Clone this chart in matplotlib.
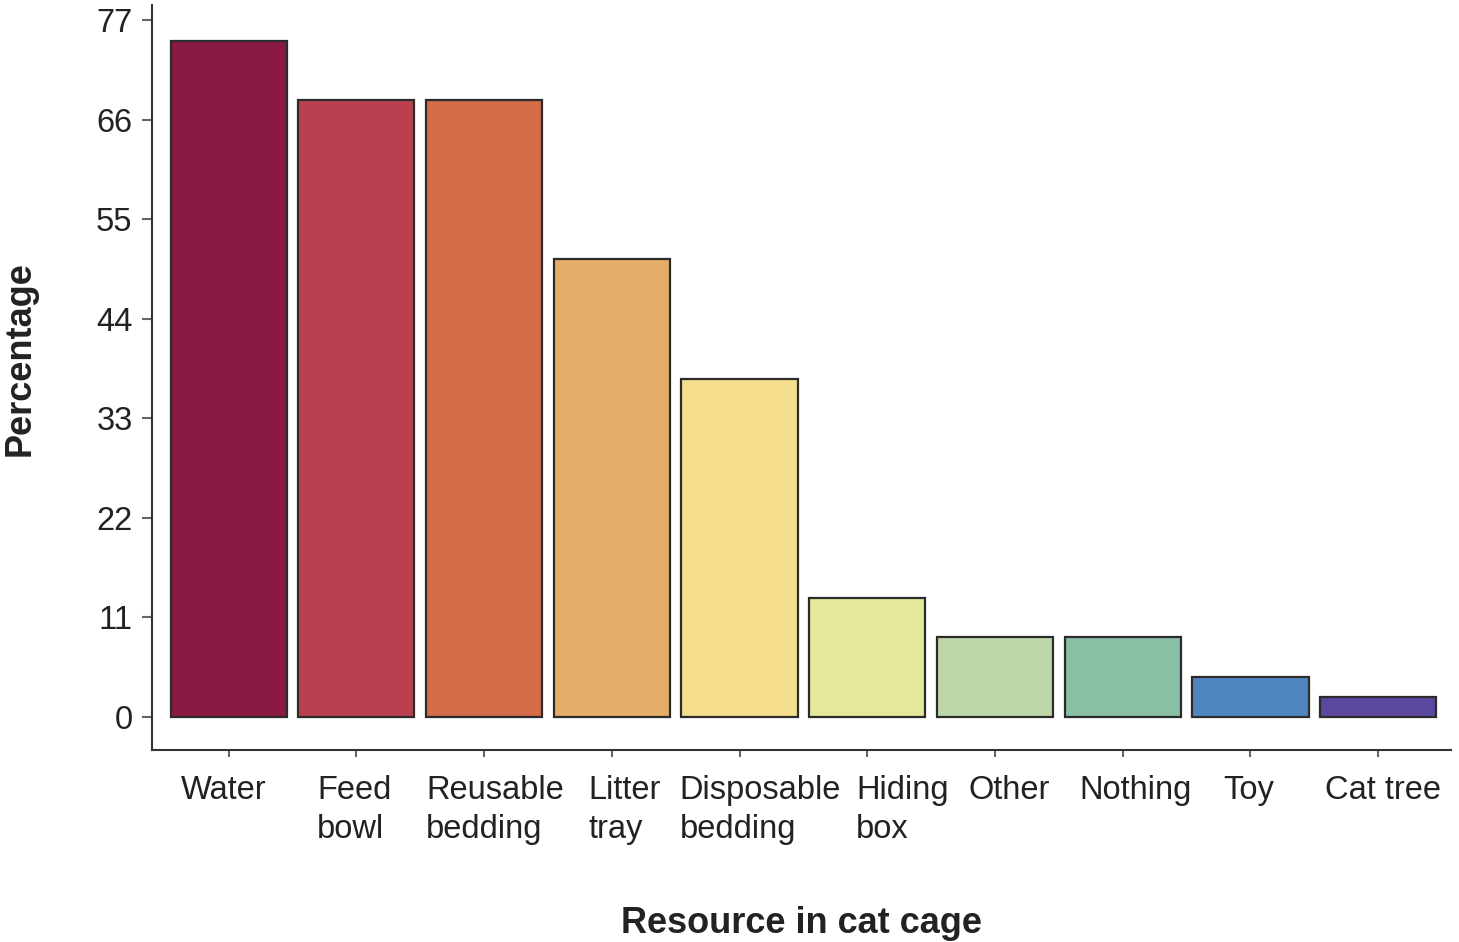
import matplotlib.pyplot as plt
from matplotlib.transforms import ScaledTranslation

plt.rcParams['font.family'] = ['Liberation Sans', 'DejaVu Sans']

resources = ["Water", "Feed\nbowl", "Reusable\nbedding", "Litter\ntray", "Disposable\nbedding",
             "Hiding\nbox", "Other", "Nothing", "Toy", "Cat tree"]
percentages = [74.7, 68.2, 68.2, 50.6, 37.3, 13.1, 8.8, 8.8, 4.4, 2.2]
bar_colors = ["#8a1a43", "#ba404f", "#d46c48", "#e6ad6a", "#f4de8e",
              "#e4e99d", "#bcd6a7", "#89bfa5", "#4f86c0", "#5b479f"]
y_ticks = [0, 11, 22, 33, 44, 55, 66, 77]

# small nudges (pixels) so the labels sit as in the original
label_shift = [-5, -2, 11, 13, 21, 35, 14, 13, -2, 5]

fig = plt.figure(figsize=(14.59, 9.42), dpi=100)
ax = fig.add_axes([0.1042, 0.2038, 0.8903, 0.7909])

x = list(range(len(resources)))
ax.bar(x, percentages, width=0.91, color=bar_colors, edgecolor="#2b2b2b", linewidth=1.6)

ax.set_xlim(-0.6, 9.57)
ax.set_ylim(-3.65, 78.66)
ax.set_yticks(y_ticks)
ax.set_xticks(x)
ax.set_xticklabels(resources, multialignment="left", linespacing=1.33)

for spine in ["top", "right"]:
    ax.spines[spine].set_visible(False)
for spine in ["left", "bottom"]:
    ax.spines[spine].set_color("#333333")
    ax.spines[spine].set_linewidth(1.5)

ax.tick_params(axis="y", length=7, width=1.5, color="#666666", labelsize=23.5, labelcolor="#222222", pad=7)
ax.tick_params(axis="x", length=5, width=1.5, color="#666666", labelsize=23.5, labelcolor="#222222", pad=13)

for lab, dx in zip(ax.get_xticklabels(), label_shift):
    lab.set_transform(lab.get_transform() + ScaledTranslation(dx / 100, 0, fig.dpi_scale_trans))

ax.set_xlabel("Resource in cat cage", fontsize=26, fontweight="bold", color="#222222", labelpad=44)
ax.set_ylabel("Percentage", fontsize=26, fontweight="bold", color="#222222", labelpad=42)
ax.yaxis.label.set_y(0.525)

fig.savefig("out.png", dpi=100)
